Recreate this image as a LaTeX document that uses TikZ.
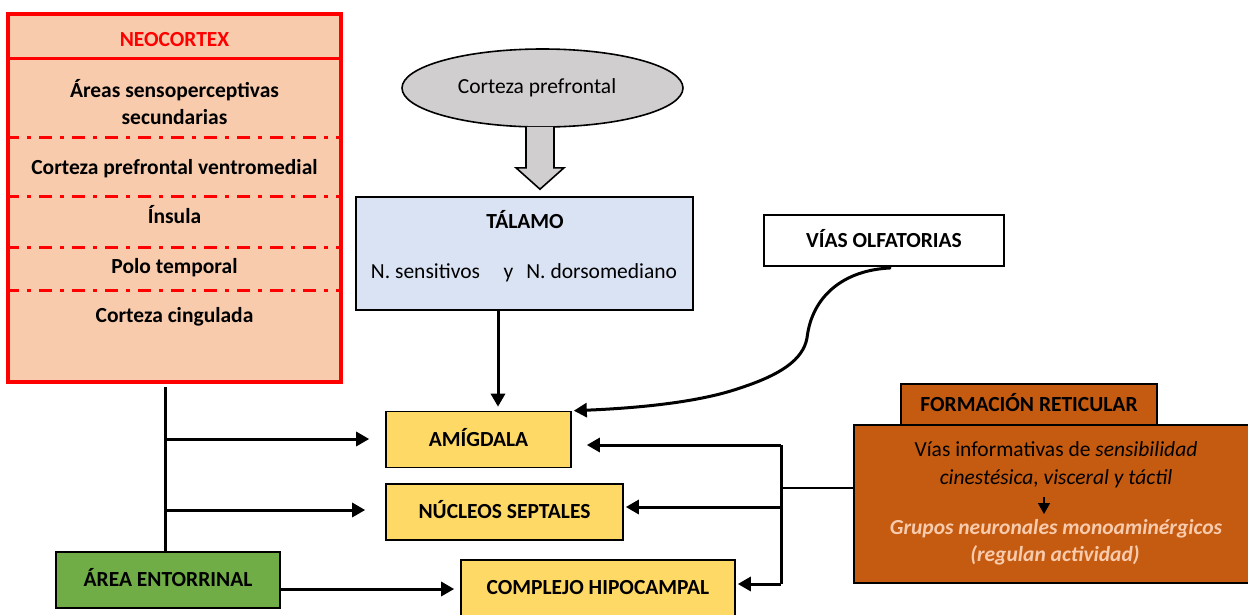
\documentclass[tikz,border=0pt]{standalone}
\usepackage{fontspec}
\setmainfont{Carlito}
\usetikzlibrary{arrows.meta,shapes.geometric,calc}
\definecolor{neofill}{HTML}{F8CBAD}
\definecolor{neored}{HTML}{FF0000}
\definecolor{ellfill}{HTML}{D0CECE}
\definecolor{talfill}{HTML}{DAE3F3}
\definecolor{yelfill}{HTML}{FFD966}
\definecolor{grnfill}{HTML}{70AD47}
\definecolor{rustfill}{HTML}{C55A11}
\definecolor{peachtext}{HTML}{F8CBAD}
\begin{document}
\begin{tikzpicture}[x=1pt,y=-1pt,
  font=\fontsize{21.5}{27}\selectfont,
  txt/.style={inner sep=0pt, text height=13.8pt, text depth=0pt},
  bf/.style={font=\fontsize{21.5}{27}\selectfont\bfseries},
  box/.style={draw=black, line width=1.6pt, inner sep=0pt, text height=13.8pt, text depth=0pt},
  ybox/.style={box, fill=yelfill, bf},
  ddline/.style={draw=neored, line width=3pt, dash pattern=on 13pt off 8pt on 4pt off 8pt},
  arr/.style={draw=black, line width=3pt, -{Triangle[length=13pt,width=14pt]}},
  ln/.style={draw=black, line width=3pt}
]
\useasboundingbox (0,0) rectangle (1248,614);

% NEOCORTEX
\node[draw=neored, fill=neofill, line width=3.5pt, minimum width=333, minimum height=368, inner sep=0pt] (neo) at (174.5,198) {};
\draw[draw=neored, line width=3pt] (neo.west |- 0,58) -- (neo.east |- 0,58);
\foreach \yy in {137,196,247,290} {
  \draw[ddline] (neo.west |- 0,\yy) -- (neo.east |- 0,\yy);
}
\node[txt, text=neored, bf] (neoh) at (174.5,40) {NEOCORTEX};
\node[txt, bf] (n1a) at (174.5,91) {Áreas sensoperceptivas};
\node[txt, bf] (n1b) at (174.5,118) {secundarias};
\node[txt, bf] (n2) at (174.5,168) {Corteza prefrontal ventromedial};
\node[txt, bf] (n3) at (174.5,217) {Ínsula};
\node[txt, bf] (n4) at (174.5,267) {Polo temporal};
\node[txt, bf] (n5) at (174.5,316) {Corteza cingulada};

% Corteza prefrontal ellipse
\node[ellipse, draw=black, fill=ellfill, line width=1.6pt, minimum width=281, minimum height=78, inner sep=0pt] (pfc) at (542.5,88) {};
\node[txt] (pfct) at (537,87) {Corteza prefrontal};

% TALAMO
\node[box, fill=talfill, minimum width=337, minimum height=113] (tal) at (524.5,253.5) {};
\node[txt, bf] (talh) at (525,222) {TÁLAMO};
\node[txt] (talt) at (524,272) {N. sensitivos\hspace{1.1em}y\hspace{0.6em}N. dorsomediano};

% hollow arrow
\draw[black, line width=1.6pt, fill=ellfill, line join=miter]
  ($(pfc.south)+(-16.5,-1)$) -- ($(pfc.south)+(-16.5,40)$) -- ($(pfc.south)+(-26.5,40)$)
  -- ($(tal.north)+(15.5,-7)$) -- ($(pfc.south)+(21.5,40)$) -- ($(pfc.south)+(11.5,40)$)
  -- ($(pfc.south)+(11.5,-1)$);

% VIAS OLFATORIAS
\node[box, fill=white, minimum width=240, minimum height=51, bf] (vias) at (884,240.5) {VÍAS OLFATORIAS};

% yellow boxes
\node[ybox, minimum width=185, minimum height=56] (amig) at (478.5,439.5) {AMÍGDALA};
\node[ybox, minimum width=237, minimum height=56] (sept) at (504.5,512) {NÚCLEOS SEPTALES};
\node[ybox, minimum width=274, minimum height=56] (hipo) at (598,588) {COMPLEJO HIPOCAMPAL};

% AREA ENTORRINAL
\node[box, fill=grnfill, minimum width=224, minimum height=56, bf] (ent) at (168,580) {ÁREA ENTORRINAL};

% FORMACION RETICULAR
\node[box, fill=rustfill, minimum width=256, minimum height=42, bf] (frh) at (1029,405) {FORMACIÓN RETICULAR};
\node[box, fill=rustfill, minimum width=404, minimum height=158] (fr) at (1056,504) {};
\node[txt] (fr1) at (1056,450) {Vías informativas de \textit{sensibilidad}};
\node[txt, font=\fontsize{21.5}{27}\selectfont\itshape] (fr2) at (1056,478) {cinestésica, visceral y táctil};
\node[txt, text=peachtext, font=\fontsize{21.5}{27}\selectfont\bfseries\itshape] (fr3) at (1056,528) {Grupos neuronales monoaminérgicos};
\node[txt, text=peachtext, font=\fontsize{21.5}{27}\selectfont\bfseries\itshape] (fr4) at (1055,555) {(regulan actividad)};
\coordinate (sa1) at (1044,497);
\coordinate (sa2) at (1044,514);
\draw[black, line width=1.5pt, -{Triangle[length=11pt,width=12pt]}] (sa1) -- (sa2);

% connectors
\draw[arr] (tal.south -| 498,0) -- ($(amig.north -| 498,0)+(0,-4)$);

\coordinate (olfs) at (890,268);
\draw[arr, line cap=round] (olfs) .. controls (845,270) and (812,295) .. (807,338)
  .. controls (803,360) and (780,375) .. (740,388)
  .. controls (700,402) and (640,408) .. ($(amig.north east)+(2,0)$);

% left trunk
\coordinate (lt) at (165,387);
\coordinate (b1) at (165,439);
\coordinate (b2) at (165,510);
\draw[ln] (lt) -- (ent.north -| lt);
\draw[arr] (b1) -- ($(amig.west |- b1)+(-16,0)$);
\draw[arr] (b2) -- ($(sept.west |- b2)+(-20,0)$);
\draw[arr] (ent.east |- 0,589) -- ($(hipo.west |- 0,589)+(-6,0)$);

% right bracket
\coordinate (rt) at (781,445);
\coordinate (rb) at (781,584);
\coordinate (rm) at (781,488);
\coordinate (rs) at (781,507);
\draw[ln] (rt) -- (rb);
\draw[line width=2.5pt] (fr.west |- rm) -- (rm);
\draw[arr] (rt) -- ($(amig.east |- rt)+(15,0)$);
\draw[arr] (rs) -- ($(sept.east |- rs)+(2,0)$);
\draw[arr] (rb) -- ($(hipo.east |- rb)+(2,0)$);
\end{tikzpicture}
\end{document}
